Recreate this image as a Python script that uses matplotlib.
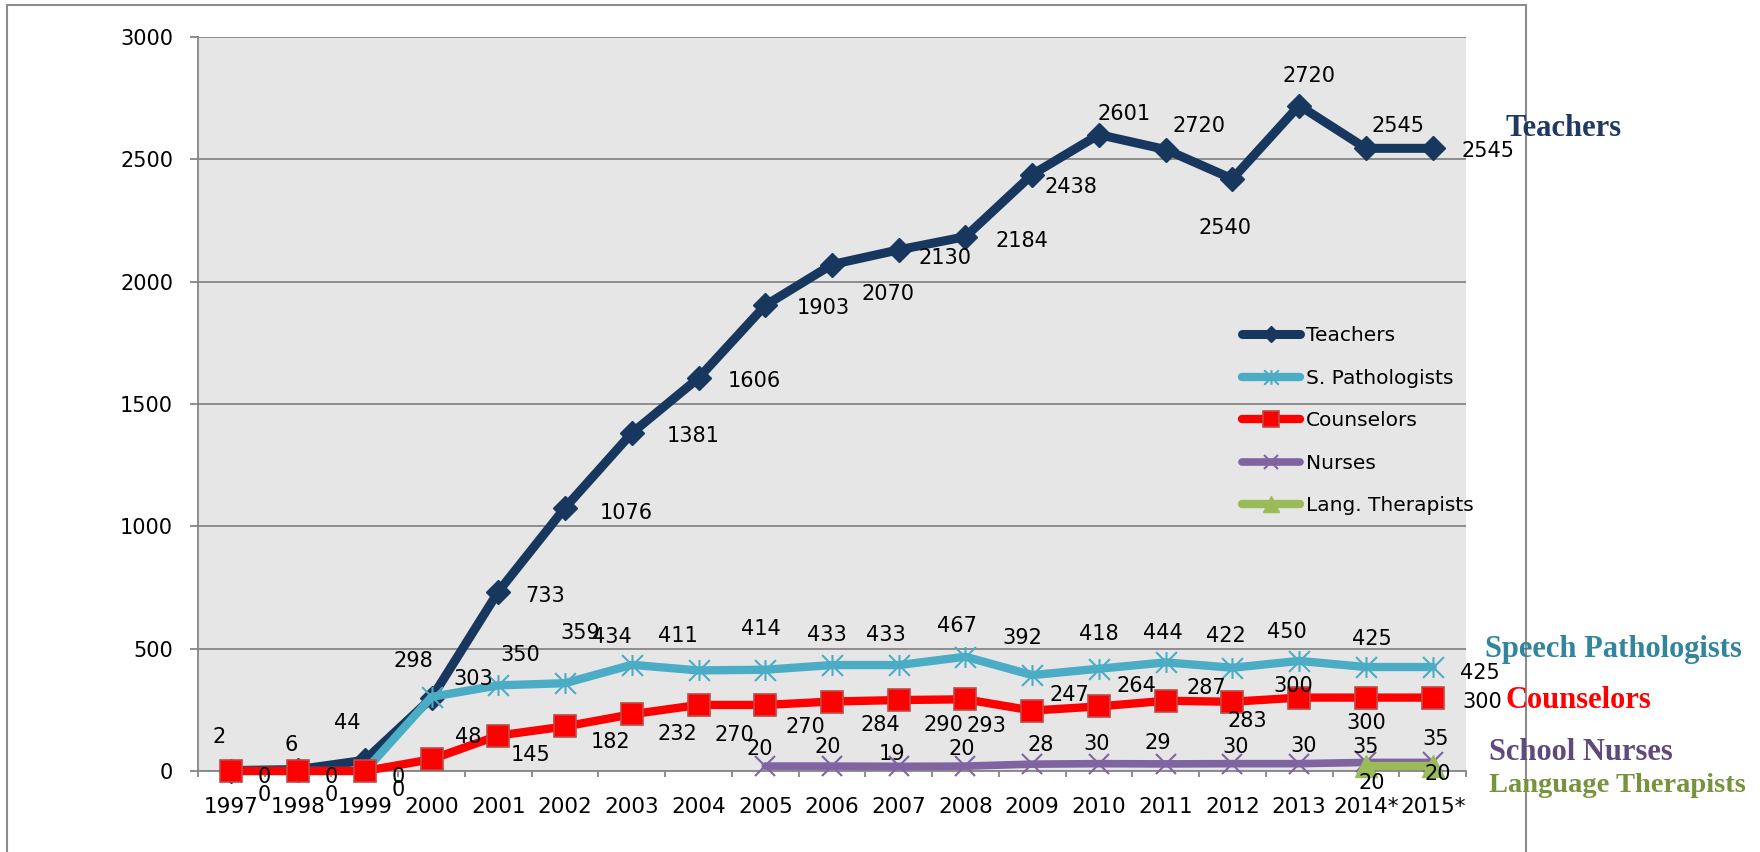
import numpy as np
import matplotlib
matplotlib.use("Agg")
import matplotlib.pyplot as plt
from matplotlib.path import Path
from matplotlib.patches import Rectangle

YEARS = ["1997", "1998", "1999", "2000", "2001", "2002", "2003", "2004", "2005", "2006",
         "2007", "2008", "2009", "2010", "2011", "2012", "2013", "2014*", "2015*"]

TEACHERS = [2, 6, 44, 298, 733, 1076, 1381, 1606, 1903, 2070,
            2130, 2184, 2438, 2601, 2540, 2420, 2720, 2545, 2545]
# labels as printed on the original chart (two of them don't match the points)
TEACHER_LABELS = ["2", "6", "44", "298", "733", "1076", "1381", "1606", "1903", "2070",
                  "2130", "2184", "2438", "2601", "2720", "2540", "2720", "2545", "2545"]
PATHOLOGISTS = [0, 0, 0, 303, 350, 359, 434, 411, 414, 433,
                433, 467, 392, 418, 444, 422, 450, 425, 425]
COUNSELORS = [0, 0, 0, 48, 145, 182, 232, 270, 270, 284,
              290, 293, 247, 264, 287, 283, 300, 300, 300]
NURSES = [np.nan] * 8 + [20, 20, 19, 20, 28, 30, 29, 30, 30, 35, 35]
LANG_THERAPISTS = [np.nan] * 17 + [20, 20]

LEGEND_NAMES = ["Teachers", "S. Pathologists", "Counselors", "Nurses", "Lang. Therapists"]

# label offsets (points) relative to each marker
OFF_TEACHERS = [(-9, 24), (-5, 18), (-13, 27), (-13, 27), (34, -3), (44, -4), (44, -2), (40, -2),
                (42, -2), (40, -21), (33, -6), (41, -3), (28, -9), (18, 15), (24, 17), (-5, -35),
                (7, 21), (23, 16), (40, -2)]
OFF_PATH = [(24, -17), (24, -17), (24, -14), (30, 13), (16, 22), (11, 36), (-14, 20), (-15, 25),
            (-3, 29), (-4, 22), (-9, 22), (-6, 22), (-7, 27), (0, 25), (-2, 21), (-5, 23),
            (-9, 21), (4, 20), (34, -4)]
OFF_COUNS = [(24, -4), (24, -4), (24, -4), (26, 16), (23, -14), (33, -11), (33, -14), (26, -22),
             (29, -16), (35, -17), (32, -18), (15, -19), (27, 11), (27, 15), (29, 9), (11, -14),
             (-4, 8), (0, -18), (36, -3)]
OFF_NURSES = [None] * 8 + [(-4, 12), (-3, 14), (-5, 9), (-3, 12), (6, 14), (-2, 14), (-6, 15),
                           (2, 12), (3, 13), (0, 11), (2, 17)]
OFF_LANG = [None] * 17 + [(4, -12), (4, -6)]

NAVY = "#17375E"
CYAN = "#4BACC6"
RED = "#FF0000"
PURPLE = "#8064A2"
GREEN = "#9BBB59"
GRID = "#868686"

star = Path([(0, -1), (0, 1), (-1, -1), (1, 1), (-1, 1), (1, -1)],
            [Path.MOVETO, Path.LINETO] * 3)

fig = plt.figure(figsize=(17.6, 8.52), dpi=100)
ax = fig.add_axes([198 / 1760, 81 / 852, 1268 / 1760, 734 / 852])
ax.set_facecolor("#E6E6E6")

x = np.arange(len(YEARS))
l1, = ax.plot(x, TEACHERS, color=NAVY, lw=6.5, marker="D", ms=12, mfc=NAVY, mec=NAVY,
              zorder=3, clip_on=False, solid_capstyle="round")
l2, = ax.plot(x, PATHOLOGISTS, color=CYAN, lw=6, marker=star, ms=15, mec=CYAN, mew=1.5,
              zorder=4, clip_on=False, solid_capstyle="round")
l3, = ax.plot(x, COUNSELORS, color=RED, lw=6, marker="s", ms=16, mfc=RED, mec="#BE4B48",
              mew=1.2, zorder=5, clip_on=False, solid_capstyle="round")
l4, = ax.plot(x, NURSES, color=PURPLE, lw=5.5, marker="x", ms=15, mec=PURPLE, mew=1.5,
              zorder=6, clip_on=False, solid_capstyle="round")
l5, = ax.plot(x, LANG_THERAPISTS, color=GREEN, lw=6, marker="^", ms=16, mfc=GREEN, mec=GREEN,
              zorder=7, clip_on=False, solid_capstyle="round")


def put_labels(vals, texts, offsets):
    for i, (v, t, o) in enumerate(zip(vals, texts, offsets)):
        if o is None or np.isnan(v):
            continue
        ax.annotate(t, (x[i], v), xytext=o, textcoords="offset points",
                    ha="center", va="center", fontsize=15, color="black",
                    zorder=10, annotation_clip=False)


put_labels(TEACHERS, TEACHER_LABELS, OFF_TEACHERS)
put_labels(PATHOLOGISTS, [str(v) for v in PATHOLOGISTS], OFF_PATH)
put_labels(COUNSELORS, [str(v) for v in COUNSELORS], OFF_COUNS)
put_labels(NURSES, [str(v) if not np.isnan(v) else "" for v in NURSES], OFF_NURSES)
put_labels(LANG_THERAPISTS, [str(v) if not np.isnan(v) else "" for v in LANG_THERAPISTS], OFF_LANG)

ax.set_xlim(-0.5, len(YEARS) - 0.5)
ax.set_ylim(0, 3000)
ax.set_yticks(np.arange(0, 3001, 500))
ax.set_xticks(x, YEARS)
ax.set_xticks(np.arange(-0.5, len(YEARS)), minor=True)
ax.yaxis.grid(True, color=GRID, lw=1.3)
ax.set_axisbelow(True)
for s in ["top", "right"]:
    ax.spines[s].set_visible(False)
for s in ["left", "bottom"]:
    ax.spines[s].set_color(GRID)
    ax.spines[s].set_linewidth(1.3)
ax.tick_params(axis="y", direction="out", length=6, color=GRID, width=1.3, labelsize=15, pad=12)
ax.tick_params(axis="x", which="major", length=0, labelsize=15.5, pad=19)
ax.tick_params(axis="x", which="minor", direction="out", length=4, color=GRID, width=1.3)

ax.legend([l1, l2, l3, l4, l5], LEGEND_NAMES, loc="upper left", bbox_to_anchor=(0.823, 0.606),
          frameon=False, borderaxespad=0, borderpad=0, fontsize=14.5, handlelength=2.9,
          handletextpad=0.3, labelspacing=1.17, markerscale=0.7)

# series names written to the right of the chart
side = [("Teachers", 1505, 128, "#1F3864", 22),
        ("Speech Pathologists", 1485, 650, "#31859C", 22),
        ("Counselors", 1505, 700, "#FF0000", 22),
        ("School Nurses", 1489, 752, "#604A7B", 22),
        ("Language Therapists", 1489, 785, "#77933C", 20.5)]
for txt, px, py, c, fs in side:
    fig.text(px / 1760, 1 - py / 852, txt, color=c, fontsize=fs, fontweight="bold",
             family="Liberation Serif", ha="left", va="center", zorder=20)

fig.add_artist(Rectangle((7 / 1760, -0.02), 1519 / 1760, 1.02 - 5 / 852,
                         transform=fig.transFigure, fill=False, ec="#8C8C8C", lw=1.5))

fig.savefig("out.png", dpi=100, facecolor="white")
